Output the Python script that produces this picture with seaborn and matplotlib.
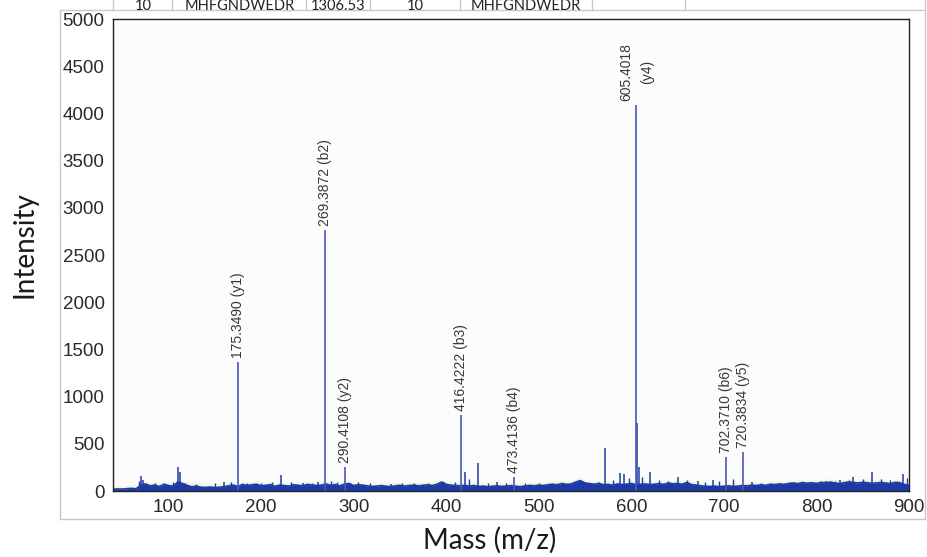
import matplotlib
matplotlib.use("Agg")
import matplotlib.pyplot as plt
from matplotlib.lines import Line2D
import numpy as np
import pandas as pd
import seaborn as sns

# Annotated fragment ions of MHFGNDWEDR
ion_mz = [175.3490, 269.3872, 290.4108, 416.4222, 473.4136, 605.4018, 702.3710, 720.3834]
ion_intensity = [1365, 2760, 255, 805, 148, 4085, 360, 412]
ion_names = ["y1", "b2", "y2", "b3", "b4", "y4", "b6", "y5"]

# Unassigned peaks rising above the noise
minor_mz = [70, 72, 110, 112, 160, 222, 245, 262, 296, 340, 398, 420, 434, 455,
            540, 572, 588, 592, 606, 608, 620, 650, 672, 688, 730, 810, 825, 840,
            860, 893]
minor_intensity = [160, 120, 250, 200, 100, 170, 90, 100, 90, 70, 100, 200, 296, 100,
                   80, 455, 190, 180, 720, 250, 200, 150, 110, 120, 100, 110, 120, 150,
                   200, 180]

# Small spikes within the noise band
spike_mz = [68, 85, 95, 105, 118, 130, 150, 168, 185, 200, 212, 232, 255, 275, 282,
            305, 318, 352, 365, 380, 410, 425, 445, 465, 485, 500, 520, 555, 565, 580,
            598, 612, 630, 640, 660, 680, 695, 710, 740, 760, 780, 795, 820, 835, 850,
            870, 880, 898]
spike_intensity = [110, 90, 85, 100, 90, 75, 80, 95, 85, 90, 100, 95, 90, 110, 100,
                   95, 85, 80, 90, 85, 95, 130, 90, 85, 80, 90, 85, 80, 95, 120,
                   140, 150, 120, 110, 115, 100, 105, 130, 90, 85, 80, 95, 110, 115, 130,
                   125, 120, 140]

# Noise floor sampled every 5 m/z from 40 to 900
noise_start, noise_step = 40, 5
noise_floor = [
    18, 22, 20, 25, 28, 24, 60, 75, 55, 62, 48, 70, 58, 52, 95, 80, 60, 45, 52, 40,
    38, 42, 36, 40, 45, 55, 62, 48, 70, 58, 66, 72, 55, 60, 68, 50, 62, 58, 52, 66,
    60, 55, 70, 64, 58, 62, 75, 60, 68, 55, 72, 80, 58, 66, 62, 54, 48, 52, 58, 50,
    46, 55, 60, 52, 58, 62, 55, 60, 66, 58, 72, 95, 70, 62, 58, 55, 60, 52, 58, 48,
    52, 45, 50, 55, 48, 52, 58, 50, 46, 52, 60, 55, 62, 58, 66, 72, 64, 80, 70, 75,
    95, 110, 85, 78, 72, 80, 66, 70, 62, 75, 68, 72, 80, 66, 70, 75, 68, 72, 78, 70,
    85, 76, 80, 72, 90, 68, 62, 55, 50, 48, 52, 46, 50, 55, 48, 52, 58, 55, 62, 58,
    66, 60, 72, 68, 75, 70, 80, 85, 78, 90, 82, 88, 80, 92, 86, 95, 84, 78, 88, 96,
    90, 85, 92, 88, 80, 86, 90, 84, 78, 92, 88, 70, 60,
]

x_ticks = [100, 200, 300, 400, 500, 600, 700, 800, 900]
y_ticks = [0, 500, 1000, 1500, 2000, 2500, 3000, 3500, 4000, 4500, 5000]

header_cells = ["10", "MHFGNDWEDR", "1306.53", "10", "MHFGNDWEDR"]

noise = pd.DataFrame({
    "mz": noise_start + noise_step * np.arange(len(noise_floor)),
    "intensity": noise_floor,
})

sns.set_style("white")
plt.rcParams["font.family"] = ["Liberation Sans", "DejaVu Sans"]

fig = plt.figure(figsize=(9.28, 5.57), dpi=100)
W, H = 928, 557
ax = fig.add_axes([113 / W, 1 - 491 / H, (909 - 113) / W, (491 - 19) / H])
ax.set_facecolor("#fcfcfc")

stick_color = "#4b56b8"
noise_color = "#1c3aa6"

# faint glow just above the baseline
ax.fill_between(noise["mz"], 0, noise["intensity"] + 40, color="#eef7d0", alpha=0.6, lw=0)
ax.fill_between(noise["mz"], 0, noise["intensity"], color=noise_color, lw=0)
sns.lineplot(data=noise, x="mz", y="intensity", ax=ax, color=noise_color, lw=1.2)

ax.vlines(spike_mz, 0, spike_intensity, color=noise_color, lw=1.0)
ax.vlines(minor_mz, 0, minor_intensity, color=noise_color, lw=1.1)
ax.vlines(ion_mz, 0, ion_intensity, color=stick_color, lw=1.2)

for mz, inten, name in zip(ion_mz, ion_intensity, ion_names):
    label = f"{mz:.4f}\n({name})" if name == "y4" else f"{mz:.4f} ({name})"
    ax.annotate(label, (mz, inten), xytext=(0, 3), textcoords="offset points",
                rotation=90, ha="center", va="bottom", fontsize=10,
                color="#383838", linespacing=1.6)

ax.set_xlim(40, 900)
ax.set_ylim(0, 5000)
ax.set_xticks(x_ticks)
ax.set_yticks(y_ticks)
ax.tick_params(axis="both", direction="out", length=4, width=0.8, color="#333333",
               labelsize=13.5, labelcolor="#2a2a2a", pad=2)
for side in ["left", "right", "top", "bottom"]:
    ax.spines[side].set_color("#222222")
    ax.spines[side].set_linewidth(1.0)
ax.set_xlabel("")
ax.set_ylabel("")

fig.text(490 / W, 1 - 540 / H, "Mass (m/z)", ha="center", va="center",
         fontsize=20, family="Lato", color="#1a1a1a")
fig.text(25 / W, 1 - 245 / H, "Intensity", ha="center", va="center", rotation=90,
         fontsize=20, family="Lato", color="#1a1a1a")

# outer panel frame
frame_color = "#c8c8c8"
for xs, ys in [((60, 925), (10, 10)), ((60, 925), (519, 519)),
               ((60, 60), (10, 519)), ((925, 925), (0, 519))]:
    fig.add_artist(Line2D([x / W for x in xs], [1 - y / H for y in ys],
                          color=frame_color, lw=1.0))

# header table row
for x in [113, 172, 306, 370, 460, 592, 685]:
    fig.add_artist(Line2D([x / W, x / W], [1 - 0 / H, 1 - 10 / H], color=frame_color, lw=1.0))
for x, text in zip([143, 240, 338, 415, 526], header_cells):
    fig.text(x / W, 1 - 6 / H, text, ha="center", va="center", fontsize=10.5,
             family="Lato", color="#222222")

fig.savefig("out.png", dpi=100, facecolor="white")
